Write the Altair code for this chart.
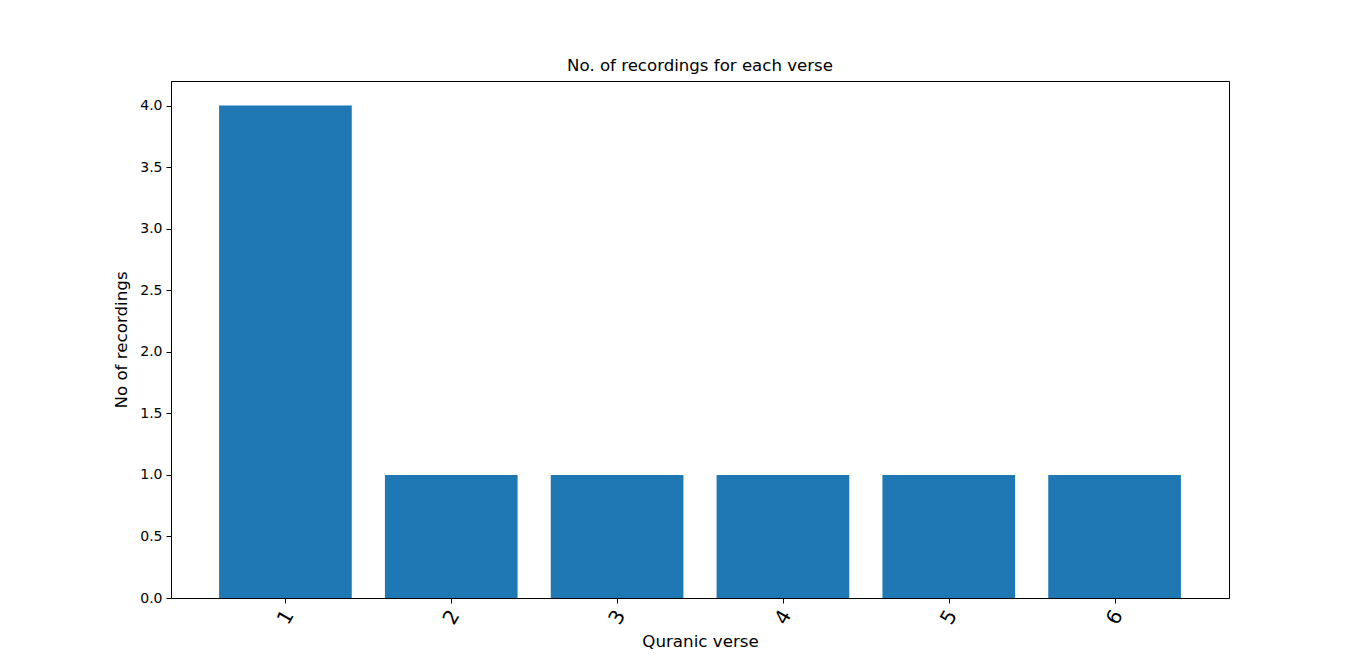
import altair as alt
import pandas as pd

verses = [1, 2, 3, 4, 5, 6]
counts = [4, 1, 1, 1, 1, 1]

df = pd.DataFrame({"verse": verses, "count": counts})

font = "DejaVu Sans"

chart = alt.Chart(df).transform_calculate(
    x0="datum.verse - 0.4", x1="datum.verse + 0.4"
).mark_bar(color="#1f77b4").encode(
    x=alt.X("x0:Q", scale=alt.Scale(domain=[0.31, 6.69], nice=False, zero=False),
            axis=alt.Axis(values=verses, format="d", title="Quranic verse", grid=False,
                          labelAngle=300, labelFontSize=20, labelFont=font,
                          labelColor="black", tickColor="black", domainColor="black",
                          tickSize=5, labelPadding=14, titleFont=font, titleFontSize=16.7,
                          titleFontWeight="normal", titleColor="black", titlePadding=6,
                          labelAlign="center", labelBaseline="middle")),
    x2="x1:Q",
    y=alt.Y("count:Q", scale=alt.Scale(domain=[0, 4.2], nice=False),
            axis=alt.Axis(values=[0, 0.5, 1, 1.5, 2, 2.5, 3, 3.5, 4], format=".1f",
                          title="No of recordings", grid=False, labelFontSize=14,
                          labelFont=font, labelColor="black", tickColor="black",
                          domainColor="black", tickSize=5, labelPadding=4,
                          titleFont=font, titleFontSize=16.7, titleFontWeight="normal",
                          titleColor="black", titlePadding=9)),
    y2=alt.datum(0),
).properties(
    width=1058, height=517,
    title=alt.TitleParams("No. of recordings for each verse", font=font, fontSize=16.6,
                          fontWeight="normal", color="black", offset=6),
    autosize=alt.AutoSizeParams(type="none"),
    padding={"left": 163, "top": 73, "right": 120, "bottom": 60},
).configure(
    background="white",
    view=alt.ViewConfig(stroke="black", strokeWidth=1),
)

chart.save("out.html", embed_options={"renderer": "svg", "actions": False})
